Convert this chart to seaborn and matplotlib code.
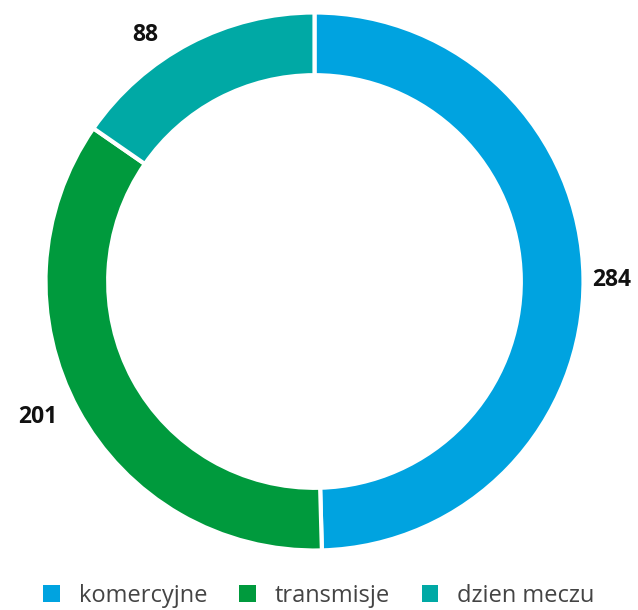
import matplotlib
matplotlib.use("Agg")
import matplotlib.pyplot as plt
from matplotlib.patches import Patch
import numpy as np
import seaborn as sns

# data
categories = ["komercyjne", "transmisje", "dzien meczu"]
values = [284, 201, 88]
colors = ["#00A3E0", "#009A3D", "#00A9A5"]

sns.set_theme(style="white")
plt.rcParams["font.family"] = ["Open Sans", "DejaVu Sans"]

W, H = 638, 610
cx, cy, R = 314.5, 281.5, 269  # ring centre and radius in pixels (from top-left)

fig = plt.figure(figsize=(W / 100, H / 100), dpi=100)
ax = fig.add_axes([0, 0, 1, 1])

wedges, _ = ax.pie(values, colors=colors, startangle=90, counterclock=False,
                   radius=1, wedgeprops=dict(width=0.233, edgecolor="white", linewidth=3))

# pie resets the limits, so set them afterwards
ax.set_xlim(-cx / R, (W - cx) / R)
ax.set_ylim(-(H - cy) / R, cy / R)
ax.set_aspect("equal")
ax.axis("off")

# value labels just outside the ring (radius, angle nudge in degrees)
label_r = [1.106, 1.146, 1.112]
label_nudge = [-0.5, -2.3, 6.8]
for w, v, lr, dn in zip(wedges, values, label_r, label_nudge):
    ang = np.deg2rad((w.theta1 + w.theta2) / 2 + dn)
    ax.text(lr * np.cos(ang), lr * np.sin(ang), str(v), ha="center", va="center",
            fontsize=16.5, fontweight="bold", color="#111111")

handles = [Patch(facecolor=c, edgecolor="none") for c in colors]
fig.legend(handles, categories, loc="center", bbox_to_anchor=(0.5, 1 - 596 / H), ncol=3,
           frameon=False, fontsize=17, handlelength=0.7, handleheight=0.7,
           handletextpad=0.8, columnspacing=1.35, labelcolor="#444444")

fig.savefig("out.png", dpi=100)
